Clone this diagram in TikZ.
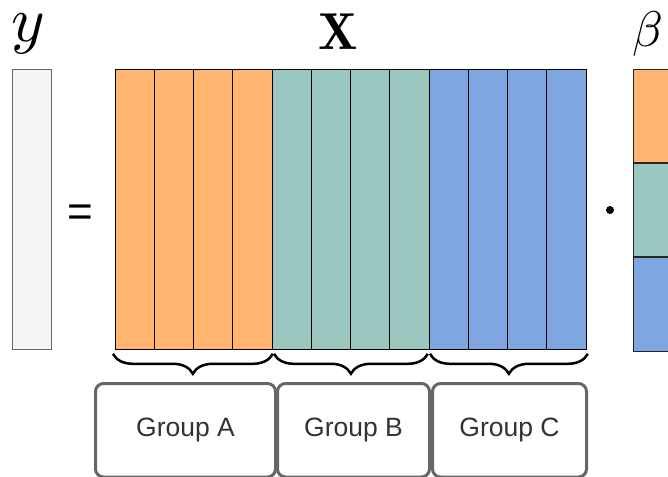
\documentclass[tikz,border=0pt]{standalone}
\usepackage{graphicx}
\usepackage{fontspec}
\newfontfamily\grpfont{Liberation Sans}
\usetikzlibrary{positioning,decorations.pathreplacing}
\definecolor{grpA}{HTML}{FFB570}
\definecolor{grpB}{HTML}{9AC7BF}
\definecolor{grpC}{HTML}{7EA6E0}
\definecolor{vecfill}{HTML}{F5F5F5}
\definecolor{boxline}{HTML}{666666}
\definecolor{boxtext}{HTML}{333333}

\begin{document}
\begin{tikzpicture}[x=1pt,y=-1pt,
  block/.style={draw,line width=0.8pt,minimum height=280pt,inner sep=0pt,anchor=north west},
  betapart/.style={draw=black!85,line width=0.8pt,minimum width=50pt,minimum height=93.33pt,inner sep=0pt,anchor=north west},
  groupbox/.style={draw=boxline,line width=3pt,rounded corners=8pt,minimum height=93.5pt,
    inner sep=0pt,anchor=north west,text=boxtext,font=\grpfont\fontsize{26.5}{30}\selectfont},
  grpbrace/.style={decorate,decoration={brace,amplitude=20pt,mirror},line width=2.5pt},
  symlabel/.style={anchor=base,inner sep=0pt}]
  \useasboundingbox (0,0) rectangle (668,476);
  % response vector
  \node[block,draw=boxline,fill=vecfill,minimum width=39pt] (yvec) at (12,69) {};
  \node[symlabel] (ylab) at (28,42) {\scalebox{6.4}{$y$}};
  \node[symlabel,font=\grpfont\fontsize{44}{44}\selectfont] (eq) at (80,226) {=};
  % design matrix, one block per group
  \node[block,fill=grpA,minimum width=157pt] (gA) at (115,69) {};
  \node[block,fill=grpB,minimum width=157pt] (gB) at (272,69) {};
  \node[block,fill=grpC,minimum width=157pt] (gC) at (429,69) {};
  \foreach \i in {1,...,11}
    \draw[line width=0.8pt] (115+39.25*\i,69) -- (115+39.25*\i,349);
  \node[symlabel] (xlab) at (338,50) {\scalebox{5.2}{$\mathbf{X}$}};
  \node[circle,fill,inner sep=0pt,minimum size=8pt] (dot) at (610,210) {};
  % coefficients
  \node[betapart,fill=grpA] (bA) at (633,69) {};
  \node[betapart,fill=grpB,below=0pt of bA] (bB) {};
  \node[betapart,fill=grpC,below=0pt of bB] (bC) {};
  \node[symlabel] (blab) at (648,47) {\scalebox{5}{$\beta$}};
  % braces and group names
  \draw[grpbrace] ([xshift=-2pt,yshift=-4pt]gA.south west) -- ([yshift=-4pt]gA.south east);
  \draw[grpbrace] ([xshift=2pt,yshift=-4pt]gB.south west) -- ([xshift=-2pt,yshift=-4pt]gB.south east);
  \draw[grpbrace] ([xshift=1pt,yshift=-4pt]gC.south west) -- ([xshift=1pt,yshift=-4pt]gC.south east);
  \node[groupbox,minimum width=180pt] (nA) at (94,382) {Group A};
  \node[groupbox,minimum width=152pt] (nB) at (276,382) {Group B};
  \node[groupbox,minimum width=154pt] (nC) at (431,382) {Group C};
\end{tikzpicture}
\end{document}
